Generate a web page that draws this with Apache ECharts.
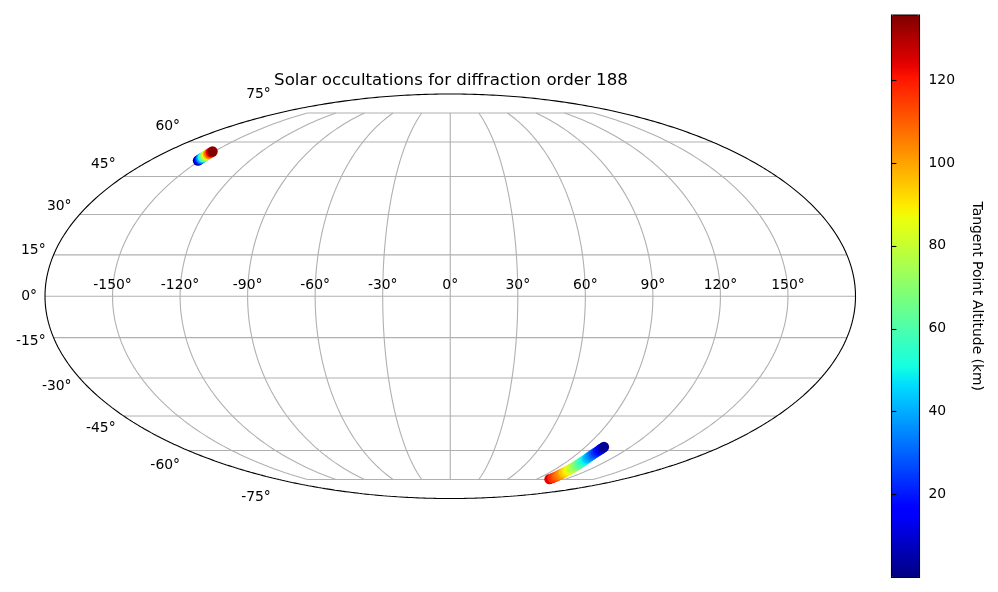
<!DOCTYPE html>
<html>
<head>
<meta charset="utf-8">
<style>
    html, body { margin: 0; padding: 0; background: #fff; }
    #chart { width: 998px; height: 592px; }
</style>
<script src="https://cdn.jsdelivr.net/npm/echarts@6/dist/echarts.min.js"></script>
</head>
<body>
<div id="chart"></div>
<script>
var chartTitle = 'Solar occultations for diffraction order 188';
var colorbarName = 'Tangent Point Altitude (km)';

var lonTicks = [-150, -120, -90, -60, -30, 0, 30, 60, 90, 120, 150];
var latTicks = [-75, -60, -45, -30, -15, 0, 15, 30, 45, 60, 75];
var colorbarTicks = [20, 40, 60, 80, 100, 120];
var altMin = 0;
var altMax = 135.7;

// northern occultation, low to high altitude
var northLon = [-151.1, -151.1, -151.1, -151.1, -151.2, -151.2, -151.2, -151.2, -151.2, -151.2, -151.2, -151.2];
var northLat = [51.7, 52.0, 52.4, 52.7, 53.1, 53.4, 53.8, 54.2, 54.5, 54.9, 55.3, 55.7];
var northAlt = [3, 15, 27, 39, 51, 63, 75, 87, 99, 111, 123, 135];

// southern occultation, high to low altitude
var southLon = [103.3, 103.6, 103.7, 103.6, 103.4, 103.2, 103.0, 103.0, 102.9, 102.8, 102.7, 102.6, 102.5, 102.3,
    102.2, 102.1, 102.0, 101.9, 101.8, 101.7, 101.6, 101.6, 101.6, 101.8, 102.0, 102.1, 102.2, 102.3, 102.4];
var southLat = [-74.8, -74.1, -73.4, -72.9, -72.3, -71.7, -71.1, -70.5, -69.9, -69.3, -68.7, -68.1, -67.5, -66.9,
    -66.3, -65.7, -65.1, -64.5, -63.9, -63.3, -62.7, -62.1, -61.5, -60.9, -60.3, -59.7, -59.2, -58.8, -58.4];
var southAlt = [124, 117, 113, 109, 105, 101, 96, 92, 88, 84, 79, 75, 71, 67,
    62, 58, 54, 50, 45, 41, 37, 33, 29, 24, 20, 16, 12, 7, 3];

var FONT = '"DejaVu Sans", sans-serif';
var SQRT2 = Math.sqrt(2);

// lon/lat in degrees to mollweide x,y
function mollweide(lon, lat) {
    var phi = lat * Math.PI / 180;
    var theta = phi;
    for (var i = 0; i < 50 && Math.abs(lat) < 90; i++) {
        theta -= (2 * theta + Math.sin(2 * theta) - Math.PI * Math.sin(phi)) / (2 + 2 * Math.cos(2 * theta));
    }
    if (Math.abs(lat) >= 90) {
        theta = phi;
    }
    return [2 * SQRT2 / 180 * lon * Math.cos(theta), SQRT2 * Math.sin(theta)];
}

function jetChannel(t, pts) {
    for (var i = 1; i < pts.length; i++) {
        if (t <= pts[i][0]) {
            var a = pts[i - 1], b = pts[i];
            return a[1] + (b[1] - a[1]) * (t - a[0]) / (b[0] - a[0]);
        }
    }
    return pts[pts.length - 1][1];
}

function jetStops(n) {
    var stops = [];
    for (var i = 0; i < n; i++) {
        var t = i / (n - 1);
        var r = jetChannel(t, [[0, 0], [0.35, 0], [0.66, 1], [0.89, 1], [1, 0.5]]);
        var g = jetChannel(t, [[0, 0], [0.125, 0], [0.375, 1], [0.64, 1], [0.91, 0], [1, 0]]);
        var b = jetChannel(t, [[0, 0.5], [0.11, 1], [0.34, 1], [0.65, 0], [1, 0]]);
        stops.push('rgb(' + Math.round(r * 255) + ',' + Math.round(g * 255) + ',' + Math.round(b * 255) + ')');
    }
    return stops;
}

function lineSeries(points, color) {
    return {
        type: 'line',
        data: points,
        symbol: 'none',
        silent: true,
        clip: false,
        animation: false,
        z: color === '#000000' ? 3 : 1,
        lineStyle: { color: color, width: 1.1 }
    };
}

function meridian(lon) {
    var pts = [];
    for (var lat = -75; lat <= 75; lat += 1) {
        pts.push(mollweide(lon, lat));
    }
    return lineSeries(pts, '#b0b0b0');
}

function parallel(lat) {
    // the 75 degree lines stop at the outer meridians in the original
    var edge = Math.abs(lat) >= 75 ? 150 : 180;
    return lineSeries([mollweide(-edge, lat), mollweide(edge, lat)], '#b0b0b0');
}

function outline() {
    var pts = [];
    for (var i = 0; i <= 720; i++) {
        var t = i / 720 * 2 * Math.PI;
        pts.push([2 * SQRT2 * Math.cos(t), SQRT2 * Math.sin(t)]);
    }
    return lineSeries(pts, '#000000');
}

function trackData(lons, lats, alts) {
    return lons.map(function (lon, i) {
        var p = mollweide(lon, lats[i]);
        return [p[0], p[1], alts[i]];
    });
}

function tickLabels(points, position, distance) {
    return {
        type: 'scatter',
        data: points,
        symbolSize: 0,
        silent: true,
        clip: false,
        animation: false,
        z: 4,
        itemStyle: { opacity: 1 },
        label: {
            show: true,
            position: position,
            distance: distance,
            color: '#000',
            fontFamily: FONT,
            fontSize: 13.9,
            formatter: function (p) { return p.value[2] + '°'; }
        }
    };
}

var series = [];
lonTicks.forEach(function (lon) { series.push(meridian(lon)); });
latTicks.forEach(function (lat) { series.push(parallel(lat)); });
series.push(outline());

var firstTrack = series.length;
[[northLon, northLat, northAlt], [southLon, southLat, southAlt]].forEach(function (t) {
    series.push({
        type: 'scatter',
        data: trackData(t[0], t[1], t[2]),
        symbolSize: 10.4,
        clip: false,
        animation: false,
        silent: true,
        z: 2,
        itemStyle: { opacity: 1 }
    });
});

// longitude labels sit just above the equator
series.push(tickLabels(lonTicks.map(function (lon) {
    var p = mollweide(lon, 0);
    return [p[0], p[1], lon];
}), 'top', 4));

// latitude labels follow the ellipse edge, stretched 1.1 in y like matplotlib's geo axes
series.push(tickLabels(latTicks.map(function (lat) {
    var p = mollweide(-180, lat);
    return [p[0], p[1] * 1.1, lat];
}), 'left', 8));

var myChart = echarts.init(document.getElementById('chart'), null, { renderer: 'canvas' });
myChart.setOption({
    backgroundColor: '#fff',
    animation: false,
    title: {
        text: chartTitle,
        left: 446,
        top: 67,
        textAlign: 'center',
        textStyle: { color: '#000', fontFamily: FONT, fontSize: 16.67, fontWeight: 'normal' }
    },
    grid: [
        { left: 45, top: 94, width: 810.5, height: 404.5, show: false },
        { left: 891.5, top: 15, width: 28, height: 562.5, show: true, z: 5,
          borderColor: '#000', borderWidth: 1.1, backgroundColor: 'transparent' }
    ],
    xAxis: [
        { type: 'value', gridIndex: 0, min: -2 * SQRT2, max: 2 * SQRT2, show: false },
        { type: 'value', gridIndex: 1, min: 0, max: 1, show: false }
    ],
    yAxis: [
        { type: 'value', gridIndex: 0, min: -SQRT2, max: SQRT2, show: false },
        {
            type: 'value',
            gridIndex: 1,
            position: 'right',
            min: altMin,
            max: altMax,
            z: 6,
            name: colorbarName,
            nameLocation: 'middle',
            nameRotate: -90,
            nameGap: 50,
            nameTextStyle: { color: '#000', fontFamily: FONT, fontSize: 13.9 },
            axisLine: { show: false },
            splitLine: { show: false },
            axisTick: { show: true, length: 4.9, customValues: colorbarTicks,
                lineStyle: { color: '#000', width: 1.1 } },
            axisLabel: { show: true, margin: 9, color: '#000', fontFamily: FONT, fontSize: 13.9,
                padding: [2, 0, 0, 0], customValues: colorbarTicks }
        }
    ],
    visualMap: {
        type: 'continuous',
        seriesIndex: [firstTrack, firstTrack + 1],
        dimension: 2,
        min: altMin,
        max: altMax,
        left: 891.5,
        top: 15,
        padding: 0,
        itemWidth: 28,
        itemHeight: 562.5,
        calculable: false,
        hoverLink: false,
        showLabel: false,
        text: null,
        z: 1,
        inRange: { color: jetStops(65) }
    },
    series: series
});
</script>
</body>
</html>
